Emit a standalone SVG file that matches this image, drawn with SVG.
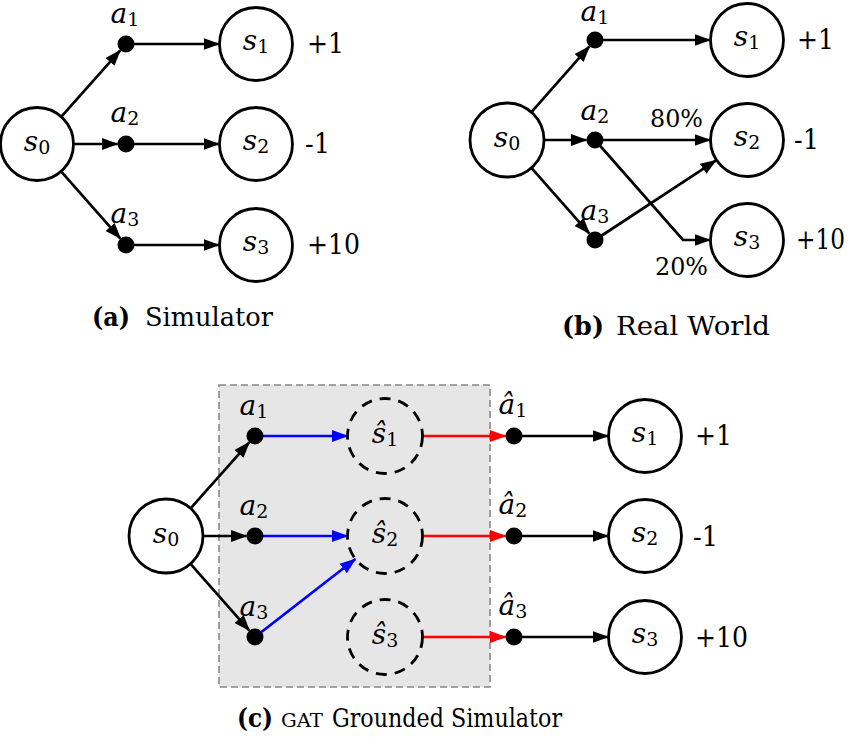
<svg xmlns="http://www.w3.org/2000/svg" width="850" height="744" viewBox="0 0 850 744">
<defs>
<style>
.st{fill:#fff;stroke:#000;stroke-width:2.8}
.ds{fill:none;stroke:#000;stroke-width:2.8;stroke-dasharray:11 8}
.dot{fill:#000}
.e{fill:none;stroke:#000;stroke-width:2.7;marker-end:url(#ah)}
.eb{fill:none;stroke:#0000ff;stroke-width:2.7;marker-end:url(#ahb)}
.er{fill:none;stroke:#ff0000;stroke-width:2.7;marker-end:url(#ahr)}
.f{font-family:"DejaVu Serif","Liberation Serif",serif;fill:#000}
.m{font-size:28px;text-anchor:middle}
.v{font-style:italic}
.sb{font-size:19px}
.r{font-size:27px}
.cap{font-size:26px}
.b{font-weight:bold}
</style>
<marker id="ah" markerUnits="userSpaceOnUse" markerWidth="18" markerHeight="14" viewBox="0 -7 18 14" refX="15.5" refY="0" orient="auto"><path d="M0,-6 L16.5,0 L0,6 Z" fill="#000"/></marker>
<marker id="ahb" markerUnits="userSpaceOnUse" markerWidth="18" markerHeight="14" viewBox="0 -7 18 14" refX="15.5" refY="0" orient="auto"><path d="M0,-6 L16.5,0 L0,6 Z" fill="#0000ff"/></marker>
<marker id="ahr" markerUnits="userSpaceOnUse" markerWidth="18" markerHeight="14" viewBox="0 -7 18 14" refX="15.5" refY="0" orient="auto"><path d="M0,-6 L16.5,0 L0,6 Z" fill="#ff0000"/></marker>
</defs>
<rect width="850" height="744" fill="#fff"/>

<rect id="grounding-box" x="219" y="385" width="271" height="302" fill="#e6e6e6" stroke="#888" stroke-width="1.6" stroke-dasharray="7 4"/>

<g id="connectors">
<line class="e" x1="61.6" y1="116.4" x2="120.3" y2="50.3"/>
<line class="e" x1="74" y1="144" x2="117.5" y2="144"/>
<line class="e" x1="61.5" y1="171.8" x2="120.4" y2="238.6"/>
<line class="e" x1="126" y1="44" x2="219" y2="44"/>
<line class="e" x1="126" y1="144" x2="219" y2="144"/>
<line class="e" x1="126" y1="245" x2="219" y2="245"/>
<line class="e" x1="531.4" y1="112.2" x2="589.4" y2="46.4"/>
<line class="e" x1="544" y1="140" x2="586.5" y2="140"/>
<line class="e" x1="531.4" y1="167.8" x2="589.4" y2="233.6"/>
<line class="e" x1="595" y1="40" x2="710" y2="40"/>
<line class="e" x1="595" y1="140" x2="710" y2="140"/>
<polyline class="e" points="595,140 683,240 710,240"/>
<line class="e" x1="595" y1="240" x2="716.1" y2="160.3"/>
<line class="e" x1="190.6" y1="508.4" x2="249.3" y2="442.3"/>
<line class="e" x1="203" y1="536" x2="246.5" y2="536"/>
<line class="e" x1="190.5" y1="563.8" x2="249.4" y2="630.6"/>
<line class="eb" x1="255" y1="436" x2="347.5" y2="436"/>
<line class="eb" x1="255" y1="536" x2="347.5" y2="536"/>
<line class="eb" x1="255" y1="637" x2="355.4" y2="559"/>
<line class="er" x1="422.5" y1="436" x2="505.5" y2="436"/>
<line class="er" x1="422.5" y1="536" x2="505.5" y2="536"/>
<line class="er" x1="422.5" y1="637" x2="505.5" y2="637"/>
<line class="e" x1="514" y1="436" x2="608" y2="436"/>
<line class="e" x1="514" y1="536" x2="608" y2="536"/>
<line class="e" x1="514" y1="637" x2="608" y2="637"/>
</g>

<g class="f">
<!-- ===== Panel (a) ===== -->
<g id="a-s0"><circle class="st" cx="37" cy="144" r="36.5"/><text class="m" x="37" y="151"><tspan class="v">s</tspan><tspan class="sb" dy="3">0</tspan></text></g>
<g id="a-a1"><circle class="dot" cx="126" cy="44" r="8.5"/><text class="m" x="125" y="23"><tspan class="v">a</tspan><tspan class="sb" dy="3">1</tspan></text></g>
<g id="a-a2"><circle class="dot" cx="126" cy="144" r="8.5"/><text class="m" x="125" y="122"><tspan class="v">a</tspan><tspan class="sb" dy="3">2</tspan></text></g>
<g id="a-a3"><circle class="dot" cx="126" cy="245" r="8.5"/><text class="m" x="125" y="223"><tspan class="v">a</tspan><tspan class="sb" dy="3">3</tspan></text></g>
<g id="a-s1"><circle class="st" cx="256" cy="44" r="36.5"/><text class="m" x="256" y="50"><tspan class="v">s</tspan><tspan class="sb" dy="3">1</tspan></text><text class="r" x="307" y="53" textLength="37" lengthAdjust="spacingAndGlyphs">+1</text></g>
<g id="a-s2"><circle class="st" cx="256" cy="144" r="36.5"/><text class="m" x="256" y="150"><tspan class="v">s</tspan><tspan class="sb" dy="3">2</tspan></text><text class="r" x="305" y="153" textLength="25" lengthAdjust="spacingAndGlyphs">-1</text></g>
<g id="a-s3"><circle class="st" cx="256" cy="245" r="36.5"/><text class="m" x="256" y="251"><tspan class="v">s</tspan><tspan class="sb" dy="3">3</tspan></text><text class="r" x="307" y="254" textLength="53" lengthAdjust="spacingAndGlyphs">+10</text></g>
<g id="caption-a"><text class="cap b" x="92" y="326" textLength="38" lengthAdjust="spacingAndGlyphs">(a)</text><text class="cap" x="145" y="326" textLength="128" lengthAdjust="spacingAndGlyphs">Simulator</text></g>

<!-- ===== Panel (b) ===== -->
<g id="b-s0"><circle class="st" cx="507" cy="140" r="37"/><text class="m" x="507" y="147"><tspan class="v">s</tspan><tspan class="sb" dy="3">0</tspan></text></g>
<g id="b-a1"><circle class="dot" cx="595" cy="40" r="8.5"/><text class="m" x="595" y="21"><tspan class="v">a</tspan><tspan class="sb" dy="3">1</tspan></text></g>
<g id="b-a2"><circle class="dot" cx="595" cy="140" r="8.5"/><text class="m" x="595" y="120"><tspan class="v">a</tspan><tspan class="sb" dy="3">2</tspan></text></g>
<g id="b-a3"><circle class="dot" cx="595" cy="240" r="8.5"/><text class="m" x="595" y="220"><tspan class="v">a</tspan><tspan class="sb" dy="3">3</tspan></text></g>
<g id="b-s1"><circle class="st" cx="747" cy="40" r="36.5"/><text class="m" x="747" y="46"><tspan class="v">s</tspan><tspan class="sb" dy="3">1</tspan></text><text class="r" x="797" y="49" textLength="37" lengthAdjust="spacingAndGlyphs">+1</text></g>
<g id="b-s2"><circle class="st" cx="747" cy="140" r="36.5"/><text class="m" x="747" y="146"><tspan class="v">s</tspan><tspan class="sb" dy="3">2</tspan></text><text class="r" x="794" y="149" textLength="25" lengthAdjust="spacingAndGlyphs">-1</text></g>
<g id="b-s3"><circle class="st" cx="747" cy="240" r="36.5"/><text class="m" x="747" y="246"><tspan class="v">s</tspan><tspan class="sb" dy="3">3</tspan></text><text class="r" x="796" y="249" textLength="49" lengthAdjust="spacingAndGlyphs">+10</text></g>
<g id="b-probs"><text x="650" y="127" font-size="25" textLength="53" lengthAdjust="spacingAndGlyphs">80%</text><text x="655" y="275" font-size="25" textLength="53" lengthAdjust="spacingAndGlyphs">20%</text></g>
<g id="caption-b"><text class="cap b" x="562" y="335" textLength="42" lengthAdjust="spacingAndGlyphs">(b)</text><text class="cap" x="616" y="335" textLength="154" lengthAdjust="spacingAndGlyphs">Real World</text></g>

<!-- ===== Panel (c) ===== -->
<g id="c-s0"><circle class="st" cx="166" cy="536" r="37"/><text class="m" x="166" y="543"><tspan class="v">s</tspan><tspan class="sb" dy="3">0</tspan></text></g>
<g id="c-a1"><circle class="dot" cx="255" cy="436" r="8.5"/><text class="m" x="254" y="415"><tspan class="v">a</tspan><tspan class="sb" dy="3">1</tspan></text></g>
<g id="c-a2"><circle class="dot" cx="255" cy="536" r="8.5"/><text class="m" x="254" y="515"><tspan class="v">a</tspan><tspan class="sb" dy="3">2</tspan></text></g>
<g id="c-a3"><circle class="dot" cx="255" cy="637" r="8.5"/><text class="m" x="254" y="616"><tspan class="v">a</tspan><tspan class="sb" dy="3">3</tspan></text></g>
<g id="c-sh1"><circle class="ds" cx="385" cy="436" r="37.5"/><text class="m" x="385" y="443"><tspan class="v">ŝ</tspan><tspan class="sb" dy="3">1</tspan></text></g>
<g id="c-sh2"><circle class="ds" cx="385" cy="536" r="37.5"/><text class="m" x="385" y="543"><tspan class="v">ŝ</tspan><tspan class="sb" dy="3">2</tspan></text></g>
<g id="c-sh3"><circle class="ds" cx="385" cy="637" r="37.5"/><text class="m" x="385" y="644"><tspan class="v">ŝ</tspan><tspan class="sb" dy="3">3</tspan></text></g>
<g id="c-ah1"><circle class="dot" cx="514" cy="436" r="8.5"/><text class="m" x="513" y="414"><tspan class="v">â</tspan><tspan class="sb" dy="3">1</tspan></text></g>
<g id="c-ah2"><circle class="dot" cx="514" cy="536" r="8.5"/><text class="m" x="513" y="514"><tspan class="v">â</tspan><tspan class="sb" dy="3">2</tspan></text></g>
<g id="c-ah3"><circle class="dot" cx="514" cy="637" r="8.5"/><text class="m" x="513" y="615"><tspan class="v">â</tspan><tspan class="sb" dy="3">3</tspan></text></g>
<g id="c-s1"><circle class="st" cx="645" cy="436" r="36.5"/><text class="m" x="645" y="442"><tspan class="v">s</tspan><tspan class="sb" dy="3">1</tspan></text><text class="r" x="695" y="445" textLength="37" lengthAdjust="spacingAndGlyphs">+1</text></g>
<g id="c-s2"><circle class="st" cx="645" cy="536" r="36.5"/><text class="m" x="645" y="542"><tspan class="v">s</tspan><tspan class="sb" dy="3">2</tspan></text><text class="r" x="693" y="546" textLength="25" lengthAdjust="spacingAndGlyphs">-1</text></g>
<g id="c-s3"><circle class="st" cx="645" cy="637" r="36.5"/><text class="m" x="645" y="643"><tspan class="v">s</tspan><tspan class="sb" dy="3">3</tspan></text><text class="r" x="695" y="647" textLength="53" lengthAdjust="spacingAndGlyphs">+10</text></g>
<g id="caption-c"><text class="cap b" x="237" y="727" textLength="36" lengthAdjust="spacingAndGlyphs">(c)</text><text x="281" y="727" font-size="18" textLength="42" lengthAdjust="spacingAndGlyphs">GAT</text><text class="cap" x="332" y="727" textLength="230" lengthAdjust="spacingAndGlyphs">Grounded Simulator</text></g>
</g>
</svg>
